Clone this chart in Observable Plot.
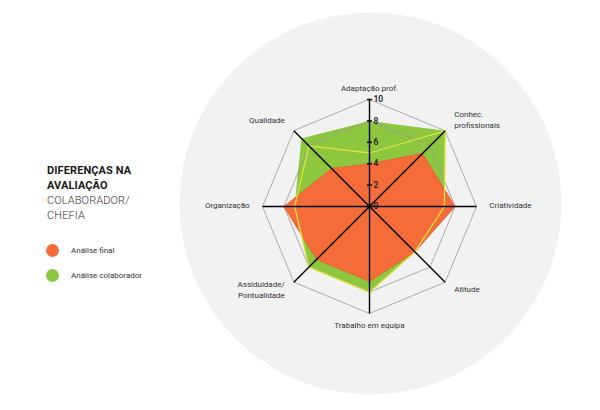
<!DOCTYPE html>
<html>
<head>
<meta charset="utf-8">
<script src="https://cdn.jsdelivr.net/npm/d3@7"></script>
<script src="https://cdn.jsdelivr.net/npm/@observablehq/plot@0.6"></script>
<style>
  html, body { margin: 0; padding: 0; background: #fff; }
  #wrap { position: relative; width: 600px; height: 410px; font-family: Roboto, "DejaVu Sans", sans-serif; }
  #chart { position: absolute; left: 0; top: 0; }
  #title { position: absolute; left: 47px; top: 163px; font-size: 11px; line-height: 15px; color: #1a1a1a; letter-spacing: 0.1px; }
  #title b { font-weight: 700; }
  #title span { font-weight: 300; color: #333; }
  .leg { position: absolute; left: 46px; font-size: 8px; color: #333; display: flex; align-items: center; height: 13px; }
  .leg i { display: inline-block; width: 13px; height: 13px; border-radius: 50%; margin-right: 12px; }
</style>
</head>
<body>
<div id="wrap">
  <div id="chart"></div>
  <div id="title"><b>DIFERENÇAS NA</b><br><b>AVALIAÇÃO</b><br><span>COLABORADOR/</span><br><span>CHEFIA</span></div>
  <div class="leg" style="top:244px"><i style="background:#f36c3a"></i>Análise final</div>
  <div class="leg" style="top:269px"><i style="background:#8dc63f"></i>Análise colaborador</div>
</div>
<script>
// ---- data ----
const categories = ["Adaptação prof.", "Conhec.\nprofissionais", "Criatividade", "Atitude", "Trabalho em equipa", "Assiduidade/\nPontualidade", "Organização", "Qualidade"];
const analiseFinal = [4, 7, 8, 6, 7, 7, 8, 5];
const analiseColaborador = [8, 10, 7, 6, 8, 8, 7, 9];
const analiseChefia = [5, 10, 7, 6, 8, 8, 7, 8];
const gridLevels = [8, 10];
const tickValues = [0, 2, 4, 6, 8, 10];
const maxValue = 10;

// ---- helpers ----
const n = categories.length;
const ang = i => i * 2 * Math.PI / n;
const polar = (values, key) => values.map((v, i) => ({key, cat: categories[i], x: v * Math.sin(ang(i)), y: v * Math.cos(ang(i))}));

const finalPts = polar(analiseFinal, "final");
const colabPts = polar(analiseColaborador, "colab");
const chefiaPts = polar(analiseChefia, "chefia");
const gridPts = gridLevels.flatMap(l => polar(categories.map(() => l), l));

const labelMarks = categories.map((c, i) => {
  const s = Math.sin(ang(i)), co = Math.cos(ang(i));
  const r = Math.abs(co) > 0.9 ? 10.7 : 11.2;
  return Plot.text([c], {
    x: () => r * s, y: () => r * co, text: d => d,
    textAnchor: s > 0.3 ? "start" : s < -0.3 ? "end" : "middle",
    lineAnchor: co > 0.9 ? "bottom" : co < -0.9 ? "top" : "middle",
    dy: Math.abs(co) > 0.9 ? -1 : -2.5,
    fontSize: 8, fill: "#333", lineHeight: 1.4
  });
});

const chart = Plot.plot({
  width: 600,
  height: 410,
  marginLeft: 262,
  marginRight: 124,
  marginTop: 99,
  marginBottom: 97,
  x: {domain: [-maxValue, maxValue], axis: null},
  y: {domain: [-maxValue, maxValue], axis: null},
  style: {fontFamily: "Roboto, 'DejaVu Sans', sans-serif", background: "transparent"},
  marks: [
    Plot.dot([0], {x: 0, y: 0, r: 191, fill: "#f2f2f2", dx: 1, dy: -3}),
    Plot.line(colabPts, {x: "x", y: "y", curve: "linear-closed", fill: "#8dc63f", stroke: "none"}),
    Plot.line(gridPts, {x: "x", y: "y", z: "key", curve: "linear-closed", stroke: "#9a9a9a", strokeWidth: 0.8}),
    Plot.line(finalPts, {x: "x", y: "y", curve: "linear-closed", fill: "#f36c3a", stroke: "#ec5a2c", strokeWidth: 0.8}),
    Plot.line(chefiaPts, {x: "x", y: "y", curve: "linear-closed", stroke: "#dde23a", strokeWidth: 1.3}),
    Plot.link(categories, {x1: 0, y1: 0, x2: (d, i) => maxValue * Math.sin(ang(i)), y2: (d, i) => maxValue * Math.cos(ang(i)), stroke: "#000", strokeWidth: 1.4}),
    Plot.link(tickValues, {x1: -0.22, x2: 0.22, y1: d => d, y2: d => d, stroke: "#000", strokeWidth: 1.6}),
    Plot.text(tickValues, {x: 0, y: d => d, text: d => String(d), dx: 4, textAnchor: "start", fontSize: 8.5, fontWeight: 600, fill: "#222"}),
    ...labelMarks
  ]
});
document.getElementById("chart").appendChild(chart);
</script>
</body>
</html>
